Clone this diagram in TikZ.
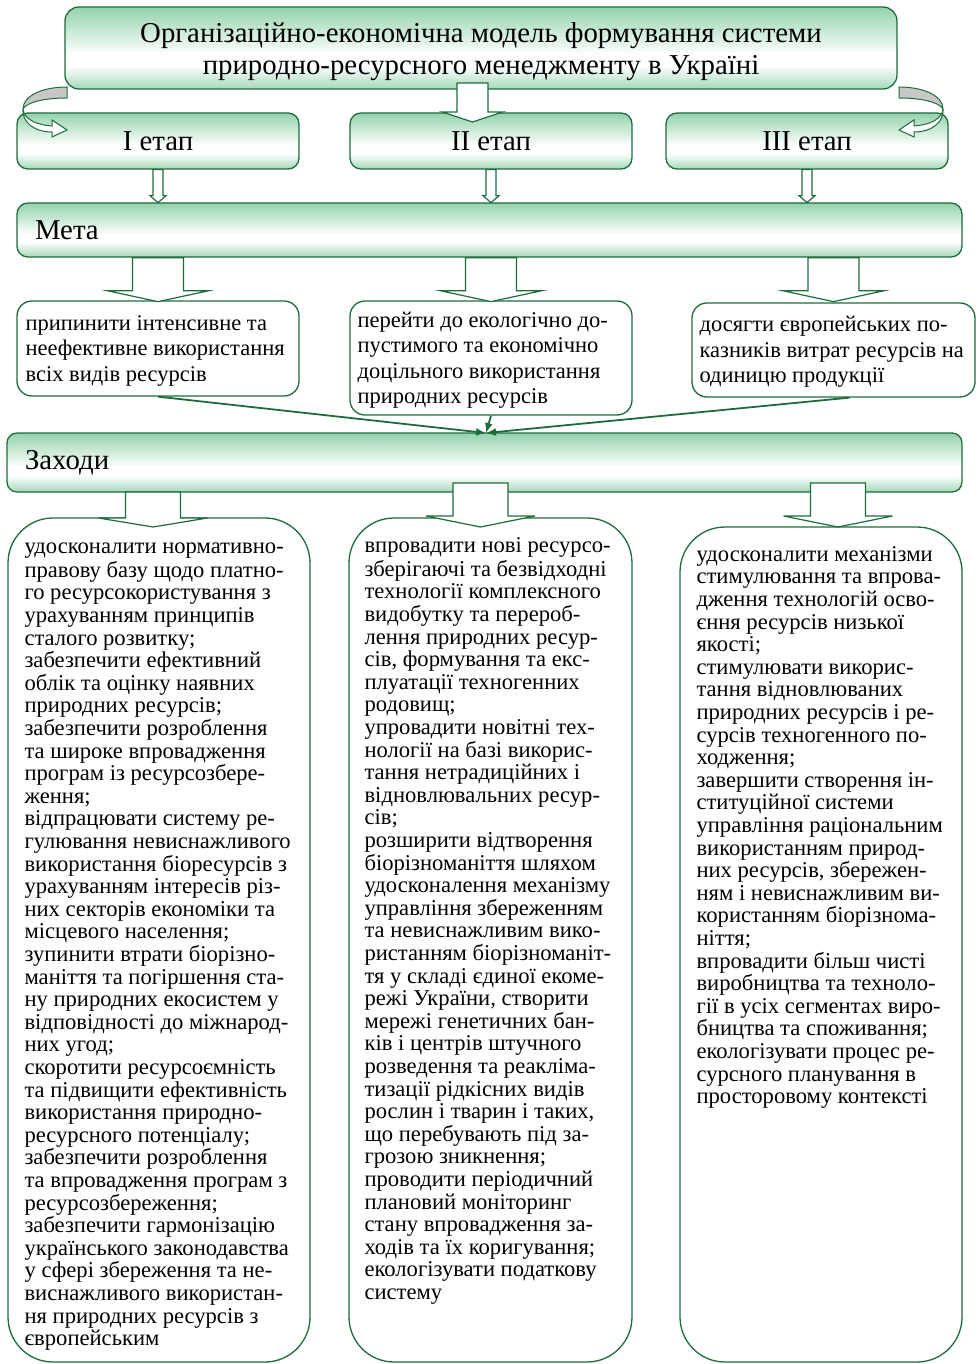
\documentclass[tikz,border=0pt]{standalone}
\usepackage{fontspec}
\setmainfont{Liberation Serif}
\usetikzlibrary{positioning,arrows.meta}

\definecolor{dkgreen}{RGB}{30,108,60}
\definecolor{ltgreen}{RGB}{148,210,172}
\colorlet{ltgreenB}{ltgreen!85!white}
\pgfdeclareverticalshading{barshade}{100bp}{color(0bp)=(ltgreenB); color(25bp)=(ltgreenB); color(39bp)=(white); color(46bp)=(white); color(75bp)=(ltgreen); color(100bp)=(ltgreen)}

% down block arrow: #1 top centre, #2 shaft half width, #3 head half width, #4 shaft length, #5 head length
\newcommand{\fatdown}[5]{%
  \draw[fatarrow, shift={(#1)}] (-#2,0) -- (-#2,#4) -- (-#3,#4) -- (0,#4+#5) -- (#3,#4) -- (#2,#4) -- (#2,0) -- cycle;
}

\begin{document}
\begin{tikzpicture}[
  x=1pt, y=-1pt,
  barbox/.style={draw=dkgreen, line width=1.3pt, rounded corners=11pt, shading=barshade, inner sep=0pt},
  goalbox/.style={draw=dkgreen, line width=1.3pt, rounded corners=15pt, fill=white, inner sep=0pt},
  measbox/.style={goalbox, rounded corners=45pt},
  bigfont/.style={font=\fontsize{28.8}{32}\selectfont},
  goaltext/.style={font=\fontsize{22.5}{25.5}\selectfont, align=left, inner sep=0pt, anchor=west},
  meastext/.style={font=\fontsize{22.6}{22.6}\selectfont, align=left, inner sep=0pt, anchor=north west},
  fatarrow/.style={draw=dkgreen, line width=1.2pt, fill=white, line join=miter},
  thinarrow/.style={draw=dkgreen, line width=1.8pt, -{Latex[length=10pt,width=8pt]}},
  curlback/.style={draw=dkgreen, line width=1pt, fill=black!22},
  curlfront/.style={draw=dkgreen, line width=1pt, fill=white}
]
\useasboundingbox (0,0) rectangle (979,1364);

%general params
\def\smshaft{5}     %stage arrows
\def\smhead{8}
\def\bgshaft{25.5}  %goal arrows
\def\bghead{51}
\def\zshaft{27.5}   %measure arrows
\def\zhead{54.5}

%title and stages
\node[barbox, rounded corners=14pt, minimum width=832pt, minimum height=82pt] (title) at (481,48) {};
\node[bigfont, align=center, inner sep=0pt] (titletext) at ([yshift=-4pt]title.center)
  {Організаційно-економічна модель формування системи\\природно-ресурсного менеджменту в Україні};
\node[barbox, bigfont, minimum width=282pt, minimum height=56pt] (st1) at (158,141) {I етап};
\node[barbox, bigfont, minimum width=282pt, minimum height=56pt] (st2) at (491,141) {II етап};
\node[barbox, bigfont, minimum width=282pt, minimum height=56pt] (st3) at (807,141) {III етап};

%bars
\node[barbox, bigfont, minimum width=945pt, minimum height=54pt, inner xsep=18pt, text width=909pt, align=left] (meta) at (489.5,230) {Мета};
\node[barbox, bigfont, rounded corners=10pt, minimum width=955pt, minimum height=59pt, inner xsep=18pt, text width=919pt, align=left] (zakh) at (484.5,462.5) {Заходи};

%goals
\node[goalbox, minimum width=282pt, minimum height=95pt] (g1) at (158,348.5) {};
\node[goalbox, minimum width=282pt, minimum height=114pt] (g2) at (491,358) {};
\node[goalbox, minimum width=283pt, minimum height=94pt] (g3) at (833.5,350) {};
\node[goaltext] (g1t) at ([xshift=9pt, yshift=-2pt]g1.west) {припинити інтенсивне та\\неефективне використання\\всіх видів ресурсів};
\node[goaltext] (g2t) at ([xshift=8pt, yshift=-2pt]g2.west) {перейти до екологічно до-\\пустимого та економічно\\доцільного використання\\природних ресурсів};
\node[goaltext] (g3t) at ([xshift=8pt, yshift=-2pt]g3.west) {досягти європейських по-\\казників витрат ресурсів на\\одиницю продукції};

%measures
\node[measbox, minimum width=302pt, minimum height=844pt] (z1) at (159,940) {};
\node[measbox, minimum width=283pt, minimum height=844pt] (z2) at (490.5,940) {};
\node[measbox, minimum width=282pt, minimum height=835pt] (z3) at (821,944.5) {};

\node[meastext] (z1t) at ([xshift=17pt, yshift=-20pt]z1.north west) {\strut удосконалити нормативно-\\правову базу щодо платно-\\го ресурсокористування з\\урахуванням принципів\\сталого розвитку;\\забезпечити ефективний\\облік та оцінку наявних\\природних ресурсів;\\забезпечити розроблення\\та широке впровадження\\програм із ресурсозбере-\\ження;\\відпрацювати систему ре-\\гулювання невиснажливого\\використання біоресурсів з\\урахуванням інтересів різ-\\них секторів економіки та\\місцевого населення;\\зупинити втрати біорізно-\\маніття та погіршення ста-\\ну природних екосистем у\\відповідності до міжнарод-\\них угод;\\скоротити ресурсоємність\\та підвищити ефективність\\використання природно-\\ресурсного потенціалу;\\забезпечити розроблення\\та впровадження програм з\\ресурсозбереження;\\забезпечити гармонізацію\\українського законодавства\\у сфері збереження та не-\\виснажливого використан-\\ня природних ресурсів з\\європейським};
\node[meastext] (z2t) at ([xshift=16pt, yshift=-19pt]z2.north west) {\strut впровадити нові ресурсо-\\зберігаючі та безвідходні\\технології комплексного\\видобутку та перероб-\\лення природних ресур-\\сів, формування та екс-\\плуатації техногенних\\родовищ;\\упровадити новітні тех-\\нології на базі викорис-\\тання нетрадиційних і\\відновлювальних ресур-\\сів;\\розширити відтворення\\біорізноманіття шляхом\\удосконалення механізму\\управління збереженням\\та невиснажливим вико-\\ристанням біорізноманіт-\\тя у складі єдиної екоме-\\режі України, створити\\мережі генетичних бан-\\ків і центрів штучного\\розведення та реакліма-\\тизації рідкісних видів\\рослин і тварин і таких,\\що перебувають під за-\\грозою зникнення;\\проводити періодичний\\плановий моніторинг\\стану впровадження за-\\ходів та їх коригування;\\екологізувати податкову\\систему};
\node[meastext] (z3t) at ([xshift=17pt, yshift=-19pt]z3.north west) {\strut удосконалити механізми\\стимулювання та впрова-\\дження технологій осво-\\єння ресурсів низької\\якості;\\стимулювати викорис-\\тання відновлюваних\\природних ресурсів і ре-\\сурсів техногенного по-\\ходження;\\завершити створення ін-\\ституційної системи\\управління раціональним\\використанням природ-\\них ресурсів, збережен-\\ням і невиснажливим ви-\\користанням біорізнома-\\ніття;\\впровадити більш чисті\\виробництва та техноло-\\гії в усіх сегментах виро-\\бництва та споживання;\\екологізувати процес ре-\\сурсного планування в\\просторовому контексті};

%block arrows
\coordinate (tA) at (472.5,83);
\fatdown{tA}{15.5}{30}{29}{10}
\fatdown{st1.south}{\smshaft}{\smhead}{26}{7}
\fatdown{st2.south}{\smshaft}{\smhead}{26}{7}
\fatdown{st3.south}{\smshaft}{\smhead}{26}{7}
\fatdown{g1.north |- meta.south}{\bgshaft}{\bghead}{33}{11}
\fatdown{g2.north |- meta.south}{\bgshaft}{\bghead}{33}{11}
\fatdown{g3.north |- meta.south}{\bgshaft}{\bghead}{33}{11}
\coordinate (zA) at (153,492);
\coordinate (zB) at (480.5,483);
\coordinate (zC) at (838,483);
\fatdown{zA}{\zshaft}{\zhead}{26}{9}
\fatdown{zB}{\zshaft}{\zhead}{33}{11}
\fatdown{zC}{\zshaft}{\zhead}{33}{11}

%goals into measures
\coordinate (conv) at (486,433);
\draw[thinarrow] (g1.south) -- (conv);
\draw[thinarrow] (g2.south) -- (conv);
\draw[thinarrow] ([xshift=16pt]g3.south) -- (conv);

%curled arrows
\draw[curlback] (67,87) .. controls (42,87) and (23,96) .. (23,109) .. controls (27,102) and (45,98) .. (67,98) -- cycle;
\draw[curlfront] (23,109) .. controls (24,120) and (38,125) .. (52,126) -- (52,120) -- (67,130) -- (52,137) -- (52,132) .. controls (34,132) and (22,122) .. (23,109) -- cycle;
\begin{scope}[shift={(966,0)}, xscale=-1]
\draw[curlback] (67,87) .. controls (42,87) and (23,96) .. (23,109) .. controls (27,102) and (45,98) .. (67,98) -- cycle;
\draw[curlfront] (23,109) .. controls (24,120) and (38,125) .. (52,126) -- (52,120) -- (67,130) -- (52,137) -- (52,132) .. controls (34,132) and (22,122) .. (23,109) -- cycle;
\end{scope}

\end{tikzpicture}
\end{document}
